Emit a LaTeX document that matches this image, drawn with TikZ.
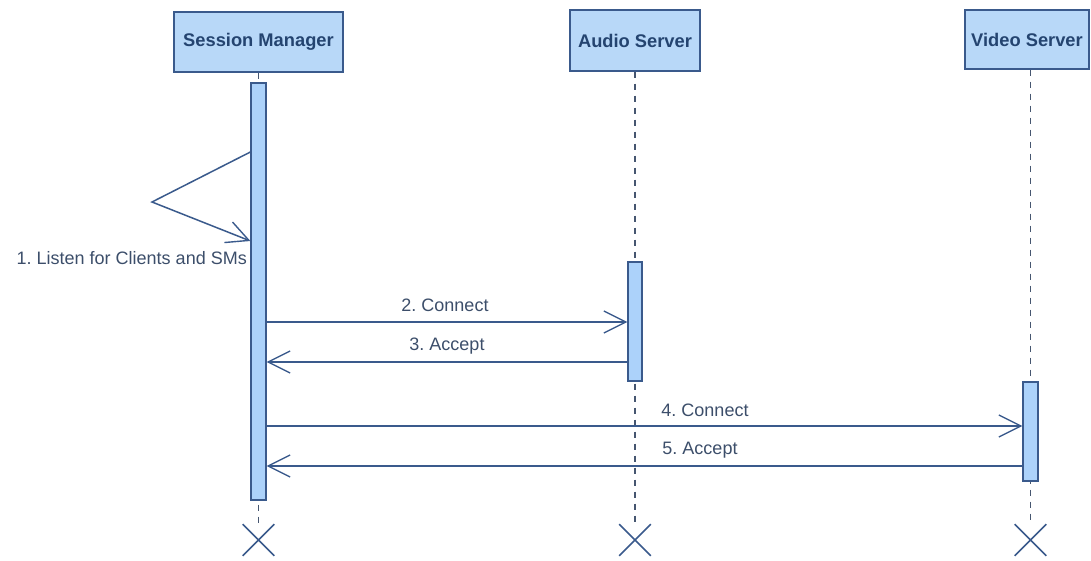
\documentclass[tikz,border=0pt]{standalone}
\usepackage{fontspec}
\setmainfont{Liberation Sans}
\frenchspacing
\usetikzlibrary{arrows.meta,shapes.misc,backgrounds}
\definecolor{boxfill}{RGB}{184,216,248}
\definecolor{barfill}{RGB}{172,210,250}
\definecolor{edge}{RGB}{58,90,140}
\definecolor{headtext}{RGB}{36,68,112}
\definecolor{msgtext}{RGB}{60,78,106}
\definecolor{lifecol}{RGB}{70,86,112}
\tikzset{
  header/.style={draw=edge, line width=1.4pt, fill=boxfill, rectangle, inner sep=0pt,
    font=\fontsize{18.3}{20}\selectfont\bfseries, text=headtext},
  actbar/.style={draw=edge, line width=1.2pt, fill=barfill, rectangle, inner sep=0pt},
  msg/.style={draw=edge, line width=1.5pt, -{Straight Barb[length=22pt,width=22pt,line width=1.4pt]}},
  msglabel/.style={font=\fontsize{18}{20}\selectfont, text=msgtext, inner sep=0pt},
  lifeline/.style={draw=lifecol, line width=1.4pt, dash pattern=on 6pt off 6pt},
  endmark/.style={draw=edge, line width=1.6pt, cross out, minimum size=30pt, inner sep=0pt}
}
\begin{document}
\begin{tikzpicture}[x=1pt,y=-1pt]
\useasboundingbox (0,0) rectangle (1091,561);
% lifeline heads
\node[header, minimum width=169pt, minimum height=60pt] (sm) at (258.5,42) {Session Manager};
\node[header, minimum width=130pt, minimum height=61pt] (as) at (635,40.5) {Audio Server};
\node[header, minimum width=124pt, minimum height=59pt] (vs) at (1027,39.5) {Video Server};
% activation bars
\node[actbar, minimum width=15pt, minimum height=417pt] (smbar) at (258.5,291.5) {};
\node[actbar, minimum width=14pt, minimum height=119pt] (asbar) at (635,321.5) {};
\node[actbar, minimum width=15pt, minimum height=99pt] (vsbar) at (1030.5,431.5) {};
% destruction marks
\node[endmark] (smx) at (258.5,540) {};
\node[endmark] (asx) at (635,540) {};
\node[endmark] (vsx) at (1030.5,540) {};
% lifelines
\begin{scope}[on background layer]
\draw[lifeline] (sm.south) -- (smx.north);
\draw[lifeline] (as.south) -- (asx.north);
\draw[lifeline] (vs.south -| vsx) -- (vsx.north);
\end{scope}
% self message
\coordinate (apex) at (152,202);
\draw[msg] (smbar.west |- 0,152) -- (apex) -- (smbar.west |- 0,241);
\node[msglabel, anchor=east] (l1) at (247,258) {1. Listen for Clients and SMs};
% messages
\draw[msg] (smbar.east |- 0,322) -- (asbar.west |- 0,322);
\node[msglabel] (l2) at (445,305) {2. Connect};
\draw[msg] (asbar.west |- 0,362) -- (smbar.east |- 0,362);
\node[msglabel] (l3) at (447,346) {3. Accept};
\draw[msg] (smbar.east |- 0,426) -- (vsbar.west |- 0,426);
\node[msglabel] (l4) at (705,410) {4. Connect};
\draw[msg] (vsbar.west |- 0,466) -- (smbar.east |- 0,466);
\node[msglabel] (l5) at (700,450) {5. Accept};
\end{tikzpicture}
\end{document}
